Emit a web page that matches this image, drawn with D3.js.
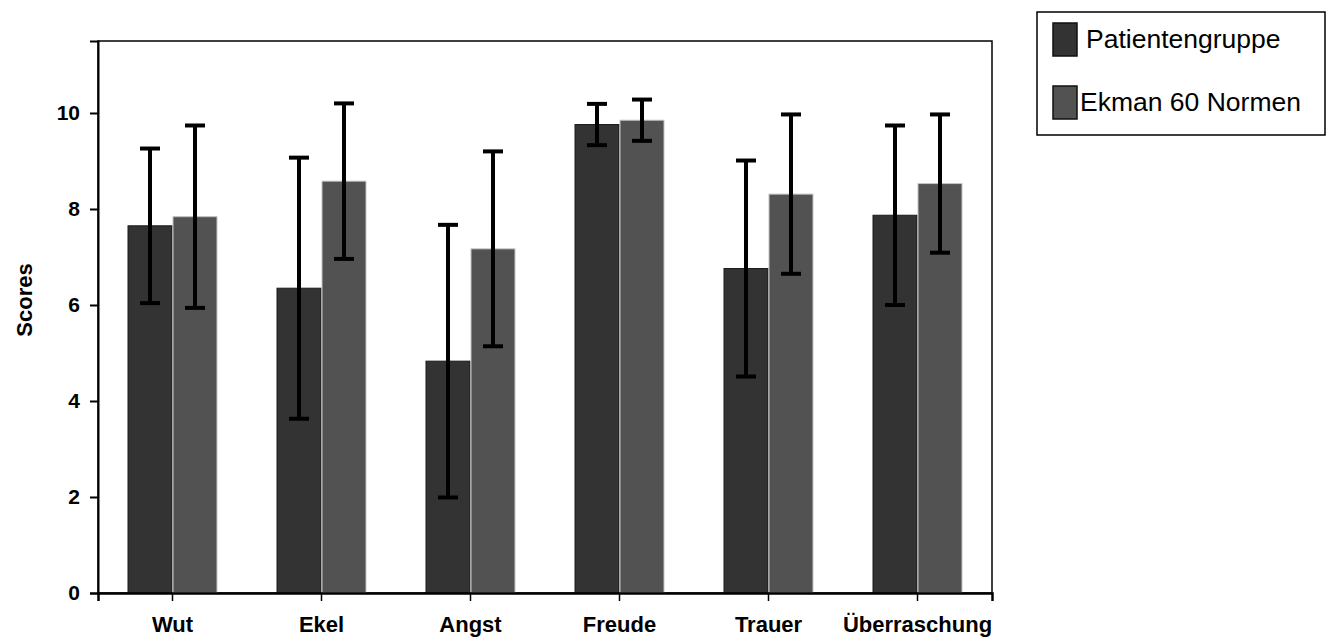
<!DOCTYPE html>
<html>
<head>
<meta charset="utf-8">
<script src="https://cdn.jsdelivr.net/npm/d3@7"></script>
<style>
  body { margin: 0; background: #fff; }
  svg { display: block; font-family: 'Liberation Sans', Arial, sans-serif; }
</style>
</head>
<body>
<svg width="1330" height="639"></svg>
<script>
const categories = ['Wut', 'Ekel', 'Angst', 'Freude', 'Trauer', 'Überraschung'];
const seriesNames = ['Patientengruppe', 'Ekman 60 Normen'];
const patientMeans = [7.65, 6.35, 4.83, 9.76, 6.76, 7.87];
const patientSD = [1.61, 2.72, 2.84, 0.43, 2.25, 1.87];
const ekmanMeans = [7.84, 8.58, 7.17, 9.85, 8.31, 8.53];
const ekmanSD = [1.9, 1.62, 2.03, 0.43, 1.66, 1.44];
const yTicks = [0, 2, 4, 6, 8, 10];

const fills = ['#333333', '#525252'];
const edges = ['#1a1a1a', '#c4c4c4'];

const margin = { top: 41, right: 338, bottom: 46, left: 98 },
  width = 1330 - margin.left - margin.right,
  height = 639 - margin.top - margin.bottom;

const data = categories.map((c, i) => ({
  cat: c,
  vals: [
    { s: seriesNames[0], m: patientMeans[i], sd: patientSD[i], k: 0 },
    { s: seriesNames[1], m: ekmanMeans[i], sd: ekmanSD[i], k: 1 }
  ]
}));

const svg = d3.select('svg');
const g = svg.append('g').attr('transform', `translate(${margin.left},${margin.top})`);

const x0 = d3.scaleBand().domain(categories).range([0, width])
  .paddingInner(0.396).paddingOuter(0.198);
const x1 = d3.scaleBand().domain(seriesNames).range([0, x0.bandwidth()]);
const y = d3.scaleLinear().domain([0, 11.5]).range([height, 0]);

// frame
g.append('rect')
  .attr('width', width).attr('height', height)
  .attr('fill', 'none').attr('stroke', '#000').attr('stroke-width', 1.5);

// bars
const groups = g.selectAll('.grp').data(data).enter().append('g')
  .attr('transform', d => `translate(${x0(d.cat)},0)`);

groups.selectAll('rect').data(d => d.vals).enter().append('rect')
  .attr('x', d => x1(d.s) + 0.5)
  .attr('y', d => y(d.m))
  .attr('width', x1.bandwidth() - 1)
  .attr('height', d => height - y(d.m))
  .attr('fill', d => fills[d.k])
  .attr('stroke', d => edges[d.k])
  .attr('stroke-width', 1);

// error bars
const eb = groups.selectAll('.err').data(d => d.vals).enter().append('g')
  .attr('transform', d => `translate(${x1(d.s) + x1.bandwidth() / 2},0)`);
eb.append('line')
  .attr('y1', d => y(d.m - d.sd)).attr('y2', d => y(d.m + d.sd))
  .attr('stroke', '#000').attr('stroke-width', 4);
eb.selectAll('.cap').data(d => [d.m - d.sd, d.m + d.sd]).enter().append('line')
  .attr('x1', -10).attr('x2', 10)
  .attr('y1', v => y(v)).attr('y2', v => y(v))
  .attr('stroke', '#000').attr('stroke-width', 4);

// y axis
const yAxis = g.append('g')
  .call(d3.axisLeft(y).tickValues(yTicks).tickSize(8).tickPadding(10).tickFormat(d3.format('d')));
yAxis.select('.domain').attr('stroke-width', 2);
yAxis.selectAll('.tick line').attr('stroke-width', 2);
yAxis.selectAll('text').attr('font-size', 21).attr('font-weight', 'bold')
  .attr('font-family', "'Liberation Sans', Arial, sans-serif").attr('fill', '#000');

// x axis
const xAxis = g.append('g').attr('transform', `translate(0,${height})`)
  .call(d3.axisBottom(x0).tickSize(8).tickPadding(15));
xAxis.select('.domain').attr('stroke-width', 2.5);
xAxis.selectAll('.tick line').attr('stroke-width', 1.5);
xAxis.selectAll('text').attr('font-size', 22).attr('font-weight', 'bold')
  .attr('font-family', "'Liberation Sans', Arial, sans-serif").attr('fill', '#000');

// y label
svg.append('text')
  .attr('transform', 'translate(32,300) rotate(-90)')
  .attr('text-anchor', 'middle')
  .attr('font-size', 22).attr('font-weight', 'bold')
  .text('Scores');

// legend
const legend = svg.append('g').attr('transform', 'translate(1037,12)');
legend.append('rect')
  .attr('width', 288).attr('height', 123)
  .attr('fill', '#fff').attr('stroke', '#000').attr('stroke-width', 1.5);
const li = legend.selectAll('.li').data(seriesNames).enter().append('g')
  .attr('transform', (d, i) => `translate(16,${11 + i * 63})`);
li.append('rect')
  .attr('width', 24).attr('height', 33)
  .attr('fill', (d, i) => fills[i]).attr('stroke', '#111').attr('stroke-width', 1.5);
li.append('text')
  .attr('x', (d, i) => i === 0 ? 33 : 27).attr('y', 25)
  .attr('font-size', 26.5)
  .text(d => d);
</script>
</body>
</html>
